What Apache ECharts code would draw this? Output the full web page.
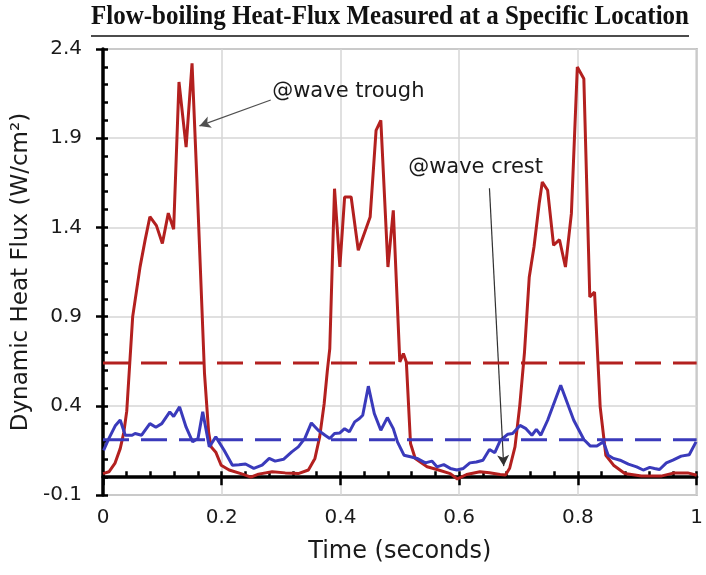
<!DOCTYPE html>
<html>
<head>
<meta charset="utf-8">
<script src="https://cdn.jsdelivr.net/npm/echarts@6/dist/echarts.min.js"></script>
<style>
html,body{margin:0;padding:0;background:#fff;}
#c{width:706px;height:575px;}
</style>
</head>
<body>
<div id="c"></div>
<script>
// ---- data ----
const titleText = 'Flow-boiling Heat-Flux Measured at a Specific Location';
const xTickLabels = ['0', '0.2', '0.4', '0.6', '0.8', '1'];
const yTickLabels = ['-0.1', '0.4', '0.9', '1.4', '1.9', '2.4'];

const timeTrough = [0.000,0.010,0.020,0.029,0.035,0.040,0.050,0.0625,0.071,0.079,0.090,0.100,0.110,0.119,0.128,0.140,0.150,0.158,0.171,0.178,0.182,0.190,0.199,0.2125,0.235,0.249,0.262,0.285,0.307,0.329,0.346,0.357,0.365,0.3725,0.378,0.382,0.390,0.399,0.407,0.418,0.430,0.440,0.450,0.460,0.468,0.480,0.489,0.500,0.506,0.511,0.518,0.526,0.546,0.5625,0.585,0.597,0.6125,0.635,0.651,0.669,0.678,0.685,0.694,0.702,0.710,0.718,0.726,0.735,0.740,0.749,0.759,0.769,0.779,0.789,0.799,0.810,0.820,0.828,0.8375,0.847,0.860,0.879,0.907,0.940,0.9625,0.985,1.000];
const fluxTrough = [0.02,0.03,0.077,0.16,0.25,0.37,0.90,1.18,1.33,1.46,1.41,1.31,1.48,1.39,2.215,1.85,2.32,1.68,0.58,0.25,0.17,0.14,0.067,0.04,0.017,0.0,0.017,0.03,0.024,0.02,0.04,0.105,0.226,0.41,0.60,0.72,1.617,1.178,1.57,1.57,1.272,1.365,1.458,1.944,2.00,1.178,1.496,0.646,0.693,0.646,0.189,0.105,0.058,0.043,0.02,-0.01,0.015,0.03,0.025,0.015,0.012,0.05,0.17,0.40,0.70,1.12,1.29,1.54,1.654,1.608,1.30,1.331,1.178,1.477,2.299,2.233,1.01,1.038,0.394,0.123,0.067,0.021,0.006,0.006,0.024,0.024,0.011];

const timeCrest = [0.001,0.010,0.021,0.029,0.0375,0.049,0.054,0.065,0.079,0.089,0.099,0.1125,0.119,0.129,0.140,0.151,0.160,0.168,0.179,0.190,0.204,0.218,0.229,0.240,0.254,0.268,0.280,0.290,0.304,0.318,0.329,0.340,0.351,0.3625,0.374,0.382,0.390,0.399,0.407,0.415,0.424,0.432,0.4375,0.447,0.457,0.468,0.479,0.489,0.496,0.507,0.518,0.529,0.543,0.554,0.5625,0.574,0.585,0.596,0.607,0.618,0.629,0.640,0.651,0.660,0.6695,0.682,0.690,0.7025,0.7125,0.7225,0.730,0.7375,0.749,0.771,0.793,0.810,0.821,0.832,0.843,0.851,0.860,0.871,0.885,0.899,0.910,0.921,0.929,0.9375,0.949,0.960,0.974,0.9875,0.999];
const fluxCrest = [0.15,0.217,0.29,0.32,0.235,0.235,0.245,0.235,0.30,0.28,0.30,0.366,0.34,0.394,0.28,0.198,0.217,0.366,0.17,0.226,0.151,0.067,0.07,0.074,0.049,0.067,0.105,0.09,0.10,0.142,0.17,0.217,0.304,0.263,0.235,0.217,0.245,0.248,0.272,0.254,0.31,0.329,0.347,0.51,0.357,0.263,0.334,0.272,0.198,0.123,0.114,0.105,0.08,0.09,0.058,0.07,0.049,0.04,0.049,0.08,0.085,0.095,0.155,0.137,0.207,0.241,0.245,0.29,0.272,0.235,0.268,0.235,0.319,0.515,0.319,0.211,0.174,0.174,0.198,0.123,0.105,0.095,0.073,0.058,0.04,0.055,0.049,0.043,0.08,0.095,0.118,0.126,0.198];

const meanTrough = 0.64;
const meanCrest = 0.21;

const troughLabel = '@wave trough';
const crestLabel = '@wave crest';
const troughTextAt = [0.285, 2.159];
const crestTextAt = [0.514, 1.733];
const troughArrow = [[0.2826, 2.114], [0.1625, 1.969]];
const crestArrow = [[0.651, 1.619], [0.675, 0.062]];

// ---- styles ----
const RED = '#b3201f';
const BLUE = '#3a3abb';
const FONT = 'DejaVu Sans';
const zip = (a, b) => a.map((v, i) => [v, b[i]]);

const chart = echarts.init(document.getElementById('c'), null, {renderer: 'canvas'});

const common = {min: 0, max: 1, interval: 0.2, type: 'value'};
const commonY = {min: -0.1, max: 2.4, interval: 0.5, type: 'value'};

const option = {
  backgroundColor: '#fff',
  animation: false,
  grid: {left: 103, top: 49, width: 599, height: 446, show: true, borderColor: '#a9a9a9', borderWidth: 2, containLabel: false},
  xAxis: [
    Object.assign({}, common, {
      position: 'bottom',
      axisLine: {show: false, onZero: false},
      axisTick: {show: false},
      splitLine: {show: true, lineStyle: {color: '#d6d6d6', width: 1.5}},
      axisLabel: {margin: 13, fontFamily: FONT, fontSize: 20, color: '#1a1a1a',
        formatter: v => xTickLabels[Math.round(v / 0.2)]},
      name: 'Time (seconds)', nameLocation: 'middle', nameGap: 45,
      nameTextStyle: {fontFamily: FONT, fontSize: 24, color: '#1a1a1a'}
    }),
    Object.assign({}, common, {
      position: 'bottom',
      axisLine: {show: true, onZero: true, onZeroAxisIndex: 0, lineStyle: {color: '#000', width: 3.5}},
      axisTick: {show: true, inside: true, length: 6, lineStyle: {color: '#000', width: 2.5}},
      minorTick: {show: true, splitNumber: 5, length: 6, lineStyle: {color: '#000', width: 2.5}},
      axisLabel: {show: false}, splitLine: {show: false}
    }),
    Object.assign({}, common, {
      position: 'bottom',
      axisLine: {show: false, onZero: true, onZeroAxisIndex: 0},
      axisTick: {show: true, inside: false, length: 8, lineStyle: {color: '#000', width: 2.5}},
      axisLabel: {show: false}, splitLine: {show: false}
    })
  ],
  yAxis: [
    Object.assign({}, commonY, {
      position: 'left',
      axisLine: {show: true, onZero: false, lineStyle: {color: '#000', width: 3.5}},
      axisTick: {show: true, inside: false, length: 7, lineStyle: {color: '#000', width: 2.5}},
      splitLine: {show: true, lineStyle: {color: '#d6d6d6', width: 1.5}},
      axisLabel: {margin: 21, fontFamily: FONT, fontSize: 20, color: '#1a1a1a',
        formatter: v => yTickLabels[Math.round((v + 0.1) / 0.5)]},
      name: 'Dynamic Heat Flux (W/cm²)', nameLocation: 'middle', nameGap: 56,
      nameTextStyle: {fontFamily: FONT, fontSize: 23, color: '#1a1a1a'}
    }),
    Object.assign({}, commonY, {
      position: 'left',
      axisLine: {show: false, onZero: false},
      axisTick: {show: true, inside: true, length: 5, lineStyle: {color: '#000', width: 2.5}},
      minorTick: {show: true, splitNumber: 5, length: 5, lineStyle: {color: '#000', width: 2.5}},
      axisLabel: {show: false}, splitLine: {show: false}
    })
  ],
  series: [
    {
      name: 'trough', type: 'line', data: zip(timeTrough, fluxTrough),
      showSymbol: false, symbol: 'none', z: 3,
      lineStyle: {color: RED, width: 3}
    },
    {
      name: 'crest', type: 'line', data: zip(timeCrest, fluxCrest),
      showSymbol: false, symbol: 'none', z: 4,
      lineStyle: {color: BLUE, width: 3}
    },
    {
      name: 'trough mean', type: 'line', data: [[0, meanTrough], [1, meanTrough]],
      showSymbol: false, symbol: 'none', z: 5,
      lineStyle: {color: RED, width: 3, type: [26, 12]}
    },
    {
      name: 'crest mean', type: 'line', data: [[0, meanCrest], [1, meanCrest]],
      showSymbol: false, symbol: 'none', z: 5,
      lineStyle: {color: BLUE, width: 3, type: [26, 12]}
    },
    {
      name: 'annotations', type: 'line', data: [], z: 6,
      markLine: {
        silent: true, animation: false,
        symbol: ['none', 'arrow'], symbolSize: [9, 11],
        label: {show: false},
        data: [
          [{coord: troughArrow[0], lineStyle: {color: '#505050', width: 1.2, type: 'solid'}, symbol: 'none'},
           {coord: troughArrow[1], symbol: 'arrow'}],
          [{coord: crestArrow[0], lineStyle: {color: '#303030', width: 1.2, type: 'solid'}, symbol: 'none'},
           {coord: crestArrow[1], symbol: 'arrow'}]
        ],
        lineStyle: {type: 'solid'},
        itemStyle: {color: '#111'}
      },
      markPoint: {
        silent: true, symbol: 'circle', symbolSize: 0,
        label: {show: true, position: 'right', distance: 0, fontFamily: FONT, fontSize: 21, color: '#1a1a1a'},
        data: [
          {coord: troughTextAt, value: troughLabel, label: {formatter: troughLabel}},
          {coord: crestTextAt, value: crestLabel, label: {formatter: crestLabel}}
        ]
      }
    }
  ]
};
chart.setOption(option);

// title with underline (tall, slightly condensed serif bold)
const ctx = document.createElement('canvas').getContext('2d');
const titleFont = 'bold 28px "Liberation Serif"';
ctx.font = titleFont;
const rawW = ctx.measureText(titleText).width;
const targetW = 598;
const sx = targetW / rawW;
const tLeft = 91;
chart.setOption({
  graphic: [
    {type: 'text', x: tLeft, y: 3, scaleX: sx, scaleY: 1, style: {text: titleText, font: titleFont, fill: '#111'}},
    {type: 'line', shape: {x1: tLeft, y1: 36, x2: tLeft + targetW, y2: 36}, style: {stroke: '#111', lineWidth: 1.5}}
  ]
});
</script>
</body>
</html>
